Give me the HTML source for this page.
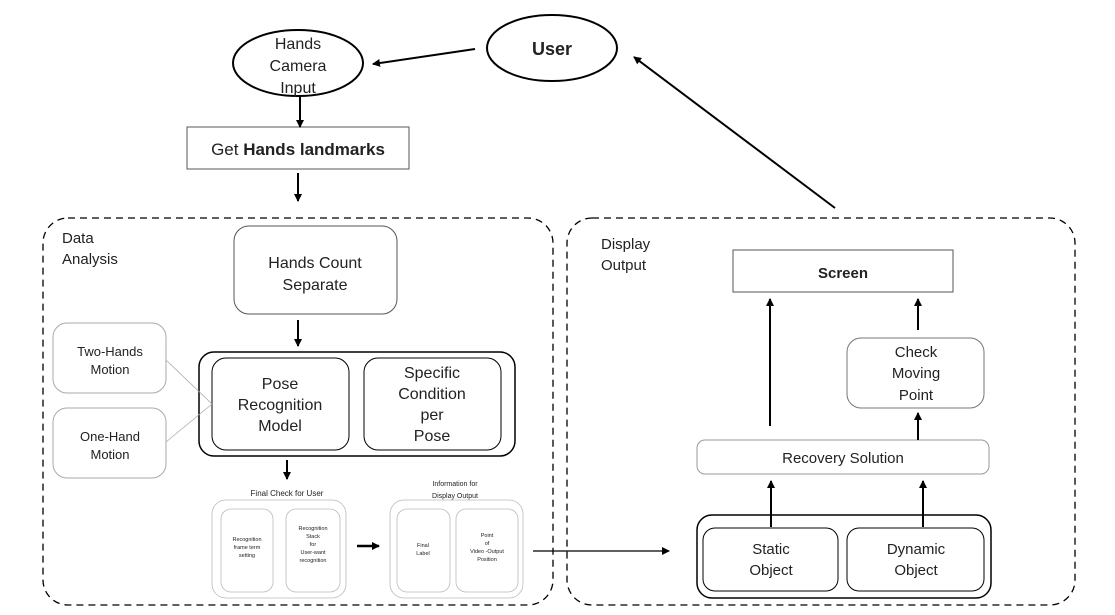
<!DOCTYPE html>
<html><head><meta charset="utf-8"><style>
body{margin:0;background:#fff}
svg{display:block}
text{font-family:"Liberation Sans",sans-serif;fill:#222;text-anchor:middle}
</style></head><body>
<svg width="1115" height="615" viewBox="0 0 1115 615" xmlns="http://www.w3.org/2000/svg">
<defs><marker id="a" markerWidth="8" markerHeight="8" refX="7" refY="4" orient="auto" markerUnits="userSpaceOnUse"><path d="M0,0 L8,4 L0,8 z" fill="#000"/></marker></defs>
<g fill="none" stroke="#000" stroke-width="1.3" stroke-dasharray="7,5">
<rect x="43" y="218" width="510" height="387" rx="25"/>
<rect x="567" y="218" width="508" height="387" rx="25"/>
</g>
<g fill="none" stroke="#000">
<ellipse cx="298" cy="63" rx="65" ry="33" stroke-width="2"/>
<ellipse cx="552" cy="48" rx="65" ry="33" stroke-width="2"/>
<rect x="187" y="127" width="222" height="42" stroke="#555"/>
<rect x="234" y="226" width="163" height="88" rx="15" stroke="#555"/>
<rect x="53" y="323" width="113" height="70" rx="14" stroke="#aaa"/>
<rect x="53" y="408" width="113" height="70" rx="14" stroke="#aaa"/>
<rect x="199" y="352" width="316" height="104" rx="15" stroke-width="1.5"/>
<rect x="212" y="358" width="137" height="92" rx="14"/>
<rect x="364" y="358" width="137" height="92" rx="14"/>
<line x1="166" y1="360" x2="212" y2="404" stroke="#aaa" stroke-width="0.8"/>
<line x1="166" y1="442" x2="212" y2="404" stroke="#aaa" stroke-width="0.8"/>
<rect x="212" y="500" width="134" height="98" rx="14" stroke="#bbb" stroke-width="0.8"/>
<rect x="221" y="509" width="52" height="83" rx="10" stroke="#bbb" stroke-width="0.8"/>
<rect x="286" y="509" width="54" height="83" rx="10" stroke="#bbb" stroke-width="0.8"/>
<rect x="390" y="500" width="133" height="98" rx="14" stroke="#bbb" stroke-width="0.8"/>
<rect x="397" y="509" width="53" height="83" rx="10" stroke="#bbb" stroke-width="0.8"/>
<rect x="456" y="509" width="62" height="83" rx="10" stroke="#bbb" stroke-width="0.8"/>
<rect x="733" y="250" width="220" height="42" stroke="#555"/>
<rect x="847" y="338" width="137" height="70" rx="14" stroke="#777"/>
<rect x="697" y="440" width="292" height="34" rx="8" stroke="#999"/>
<rect x="697" y="515" width="294" height="83" rx="15" stroke-width="1.5"/>
<rect x="703" y="528" width="135" height="63" rx="12"/>
<rect x="847" y="528" width="137" height="63" rx="12"/>
</g>
<g stroke="#000" stroke-width="2" marker-end="url(#a)">
<line x1="475" y1="49" x2="373" y2="64"/>
<line x1="835" y1="208" x2="634" y2="57"/>
<line x1="300" y1="96" x2="300" y2="127"/>
<line x1="298" y1="173" x2="298" y2="201"/>
<line x1="298" y1="320" x2="298" y2="346"/>
<line x1="287" y1="460" x2="287" y2="479"/>
<line x1="357" y1="546" x2="379" y2="546" stroke-width="2.5"/>
<line x1="533" y1="551" x2="669" y2="551" stroke-width="1.3"/>
<line x1="770" y1="426" x2="770" y2="299"/>
<line x1="918" y1="330" x2="918" y2="299"/>
<line x1="918" y1="440" x2="918" y2="413"/>
<line x1="771" y1="527" x2="771" y2="481"/>
<line x1="923" y1="527" x2="923" y2="481"/>
</g>
<g font-size="15">
<text x="298" y="49" font-size="16">Hands</text><text x="298" y="71" font-size="16">Camera</text><text x="298" y="93" font-size="16">Input</text>
<text x="552" y="55" font-size="18" font-weight="bold">User</text>
<text x="298" y="155" font-size="17">Get <tspan font-weight="bold">Hands landmarks</tspan></text>
<text x="62" y="243" style="text-anchor:start">Data</text><text x="62" y="264" style="text-anchor:start">Analysis</text>
<text x="601" y="249" style="text-anchor:start">Display</text><text x="601" y="270" style="text-anchor:start">Output</text>
<text x="315" y="268" font-size="16">Hands Count</text><text x="315" y="290" font-size="16">Separate</text>
<text x="110" y="356" font-size="13" fill="#555">Two-Hands</text><text x="110" y="374" font-size="13" fill="#555">Motion</text>
<text x="110" y="441" font-size="13" fill="#555">One-Hand</text><text x="110" y="459" font-size="13" fill="#555">Motion</text>
<text x="280" y="389" font-size="16">Pose</text><text x="280" y="410" font-size="16">Recognition</text><text x="280" y="431" font-size="16">Model</text>
<text x="432" y="378" font-size="16">Specific</text><text x="432" y="399" font-size="16">Condition</text><text x="432" y="420" font-size="16">per</text><text x="432" y="441" font-size="16">Pose</text>
<text x="287" y="496" font-size="8">Final Check for User</text>
<text x="455" y="486" font-size="7">Information for</text><text x="455" y="498" font-size="7">Display Output</text>
<g font-size="5.5" fill="#444"><text x="247" y="541">Recognition</text><text x="247" y="549">frame term</text><text x="247" y="557">setting</text>
<text x="313" y="530">Recognition</text><text x="313" y="538">Stack</text><text x="313" y="546">for</text><text x="313" y="554">User-want</text><text x="313" y="562">recognition</text>
<text x="423" y="547">Final</text><text x="423" y="555">Label</text>
<text x="487" y="537">Point</text><text x="487" y="545">of</text><text x="487" y="553">Video -Output</text><text x="487" y="561">Position</text></g>
<text x="843" y="278" font-size="15" font-weight="bold">Screen</text>
<text x="916" y="357" font-size="15">Check</text><text x="916" y="378" font-size="15">Moving</text><text x="916" y="400" font-size="15">Point</text>
<text x="843" y="463" font-size="15">Recovery Solution</text>
<text x="771" y="554" font-size="15">Static</text><text x="771" y="575" font-size="15">Object</text>
<text x="916" y="554" font-size="15">Dynamic</text><text x="916" y="575" font-size="15">Object</text>
</g>
</svg>
</body></html>
